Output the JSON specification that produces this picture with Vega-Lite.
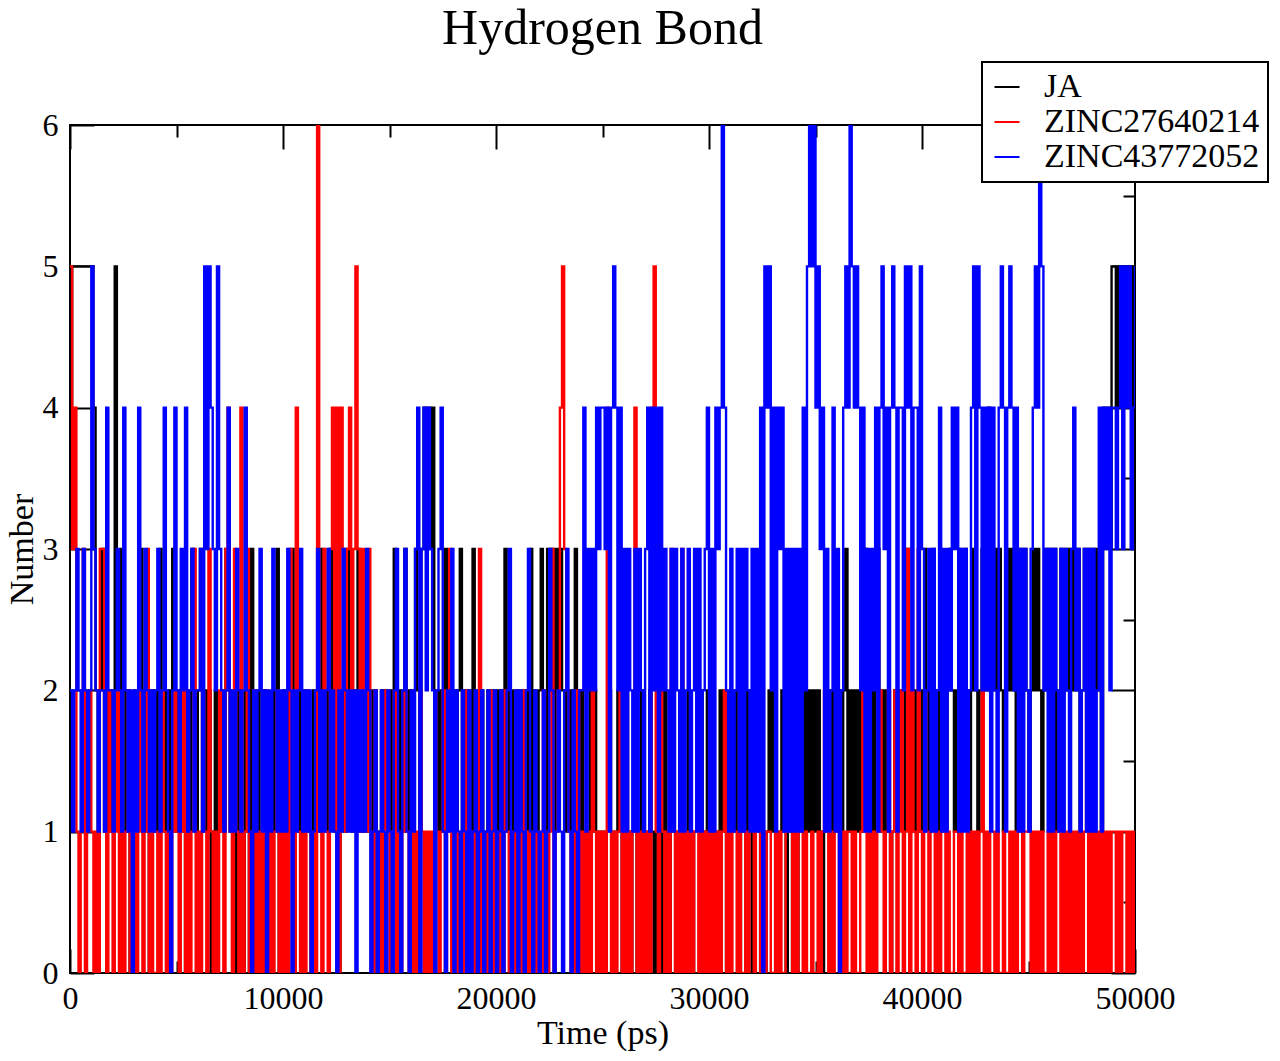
{
  "$schema": "https://vega.github.io/schema/vega-lite/v6.json",
  "description": "Hydrogen bond count over simulation time for JA and two ZINC ligands.",
  "width": 1065,
  "height": 848,
  "autosize": {"type": "none"},
  "padding": {"left": 70, "top": 125, "right": 145, "bottom": 88},
  "background": "white",
  "title": {"text": "Hydrogen Bond", "font": "Liberation Serif", "fontSize": 50, "fontWeight": "normal", "color": "black", "anchor": "middle", "frame": "group", "baseline": "alphabetic", "offset": 19, "dy": 52},
  "data": {
    "values": [
      {"t":0,"a":4,"b":5,"c":2},{"t":100,"a":5,"b":3,"c":1},{"t":200,"a":5,"b":4,"c":2},{"t":300,"a":5,"b":1,"c":3},{"t":400,"a":5,"b":0,"c":2},
      {"t":500,"a":5,"b":1,"c":1},{"t":600,"a":5,"b":3,"c":3},{"t":700,"a":5,"b":0,"c":2},{"t":800,"a":5,"b":1,"c":1},{"t":900,"a":5,"b":2,"c":2},
      {"t":1000,"a":5,"b":1,"c":5},{"t":1100,"a":4,"b":0,"c":3},{"t":1200,"a":2,"b":1,"c":2},{"t":1300,"a":1,"b":0,"c":1},{"t":1400,"a":2,"b":3,"c":2},
      {"t":1500,"a":3,"b":3,"c":2},{"t":1600,"a":1,"b":1,"c":1},{"t":1700,"a":2,"b":0,"c":4},{"t":1800,"a":1,"b":2,"c":2},{"t":1900,"a":2,"b":1,"c":2},
      {"t":2000,"a":1,"b":0,"c":1},{"t":2100,"a":5,"b":1,"c":2},{"t":2200,"a":2,"b":2,"c":3},{"t":2300,"a":1,"b":0,"c":2},{"t":2400,"a":3,"b":1,"c":1},
      {"t":2500,"a":2,"b":0,"c":4},{"t":2600,"a":1,"b":1,"c":2},{"t":2700,"a":2,"b":2,"c":1},{"t":2800,"a":0,"b":0,"c":2},{"t":2900,"a":1,"b":1,"c":0},
      {"t":3000,"a":2,"b":1,"c":2},{"t":3100,"a":1,"b":0,"c":1},{"t":3200,"a":2,"b":2,"c":4},{"t":3300,"a":3,"b":1,"c":2},{"t":3400,"a":1,"b":0,"c":1},
      {"t":3500,"a":2,"b":1,"c":3},{"t":3600,"a":1,"b":3,"c":2},{"t":3700,"a":0,"b":0,"c":1},{"t":3800,"a":2,"b":1,"c":2},{"t":3900,"a":1,"b":0,"c":1},
      {"t":4000,"a":2,"b":0,"c":2},{"t":4100,"a":1,"b":1,"c":3},{"t":4200,"a":3,"b":0,"c":1},{"t":4300,"a":2,"b":2,"c":2},{"t":4400,"a":1,"b":1,"c":4},
      {"t":4500,"a":2,"b":0,"c":2},{"t":4600,"a":1,"b":1,"c":1},{"t":4700,"a":2,"b":0,"c":0},{"t":4800,"a":3,"b":1,"c":2},{"t":4900,"a":1,"b":2,"c":4},
      {"t":5000,"a":2,"b":1,"c":2},{"t":5100,"a":1,"b":0,"c":1},{"t":5200,"a":2,"b":1,"c":3},{"t":5300,"a":1,"b":2,"c":2},{"t":5400,"a":0,"b":0,"c":4},
      {"t":5500,"a":2,"b":1,"c":1},{"t":5600,"a":1,"b":0,"c":2},{"t":5700,"a":3,"b":1,"c":3},{"t":5800,"a":2,"b":3,"c":1},{"t":5900,"a":1,"b":0,"c":2},
      {"t":6000,"a":2,"b":1,"c":2},{"t":6100,"a":3,"b":0,"c":3},{"t":6200,"a":1,"b":2,"c":1},{"t":6300,"a":2,"b":1,"c":5},{"t":6400,"a":1,"b":0,"c":3},
      {"t":6500,"a":2,"b":3,"c":5},{"t":6600,"a":0,"b":1,"c":4},{"t":6700,"a":1,"b":0,"c":3},{"t":6800,"a":2,"b":1,"c":2},{"t":6900,"a":1,"b":0,"c":5},
      {"t":7000,"a":1,"b":2,"c":3},{"t":7100,"a":2,"b":1,"c":2},{"t":7200,"a":1,"b":0,"c":1},{"t":7300,"a":3,"b":3,"c":2},{"t":7400,"a":2,"b":4,"c":4},
      {"t":7500,"a":1,"b":1,"c":1},{"t":7600,"a":2,"b":0,"c":2},{"t":7700,"a":1,"b":3,"c":1},{"t":7800,"a":0,"b":1,"c":3},{"t":7900,"a":2,"b":0,"c":2},
      {"t":8000,"a":1,"b":4,"c":1},{"t":8100,"a":0,"b":0,"c":2},{"t":8200,"a":2,"b":1,"c":4},{"t":8300,"a":1,"b":3,"c":2},{"t":8400,"a":0,"b":0,"c":1},
      {"t":8500,"a":3,"b":1,"c":0},{"t":8600,"a":1,"b":2,"c":2},{"t":8700,"a":0,"b":0,"c":1},{"t":8800,"a":2,"b":1,"c":2},{"t":8900,"a":0,"b":0,"c":3},
      {"t":9000,"a":1,"b":1,"c":1},{"t":9100,"a":2,"b":0,"c":2},{"t":9200,"a":0,"b":2,"c":0},{"t":9300,"a":1,"b":0,"c":2},{"t":9400,"a":0,"b":1,"c":1},
      {"t":9500,"a":2,"b":0,"c":3},{"t":9600,"a":1,"b":1,"c":2},{"t":9700,"a":3,"b":2,"c":1},{"t":9800,"a":0,"b":0,"c":2},{"t":9900,"a":1,"b":1,"c":1},
      {"t":10000,"a":2,"b":0,"c":2},{"t":10100,"a":1,"b":1,"c":1},{"t":10200,"a":2,"b":0,"c":3},{"t":10300,"a":1,"b":3,"c":2},{"t":10400,"a":3,"b":1,"c":0},
      {"t":10500,"a":2,"b":0,"c":2},{"t":10600,"a":1,"b":4,"c":1},{"t":10700,"a":2,"b":1,"c":2},{"t":10800,"a":1,"b":0,"c":3},{"t":10900,"a":2,"b":1,"c":1},
      {"t":11000,"a":1,"b":0,"c":2},{"t":11100,"a":2,"b":2,"c":1},{"t":11200,"a":1,"b":1,"c":2},{"t":11300,"a":0,"b":0,"c":0},{"t":11400,"a":2,"b":1,"c":1},
      {"t":11500,"a":1,"b":0,"c":2},{"t":11600,"a":2,"b":6,"c":3},{"t":11700,"a":1,"b":1,"c":1},{"t":11800,"a":3,"b":0,"c":2},{"t":11900,"a":1,"b":3,"c":1},
      {"t":12000,"a":2,"b":1,"c":2},{"t":12100,"a":1,"b":0,"c":3},{"t":12200,"a":3,"b":3,"c":1},{"t":12300,"a":2,"b":4,"c":2},{"t":12400,"a":1,"b":1,"c":1},
      {"t":12500,"a":2,"b":4,"c":0},{"t":12600,"a":0,"b":0,"c":2},{"t":12700,"a":1,"b":4,"c":1},{"t":12800,"a":2,"b":3,"c":3},{"t":12900,"a":1,"b":1,"c":2},
      {"t":13000,"a":3,"b":3,"c":1},{"t":13100,"a":2,"b":4,"c":2},{"t":13200,"a":1,"b":2,"c":1},{"t":13300,"a":2,"b":3,"c":2},{"t":13400,"a":1,"b":5,"c":0},
      {"t":13500,"a":3,"b":3,"c":2},{"t":13600,"a":1,"b":1,"c":1},{"t":13700,"a":2,"b":3,"c":2},{"t":13800,"a":1,"b":2,"c":1},{"t":13900,"a":2,"b":1,"c":3},
      {"t":14000,"a":1,"b":3,"c":2},{"t":14100,"a":2,"b":1,"c":0},{"t":14200,"a":1,"b":0,"c":1},{"t":14300,"a":2,"b":2,"c":2},{"t":14400,"a":0,"b":1,"c":0},
      {"t":14500,"a":1,"b":0,"c":1},{"t":14600,"a":2,"b":1,"c":2},{"t":14700,"a":1,"b":0,"c":1},{"t":14800,"a":2,"b":2,"c":0},{"t":14900,"a":1,"b":1,"c":2},
      {"t":15000,"a":2,"b":0,"c":1},{"t":15100,"a":1,"b":1,"c":0},{"t":15200,"a":3,"b":2,"c":2},{"t":15300,"a":2,"b":0,"c":3},{"t":15400,"a":1,"b":1,"c":1},
      {"t":15500,"a":2,"b":0,"c":0},{"t":15600,"a":1,"b":1,"c":2},{"t":15700,"a":3,"b":2,"c":3},{"t":15800,"a":1,"b":1,"c":1},{"t":15900,"a":2,"b":0,"c":0},
      {"t":16000,"a":1,"b":1,"c":2},{"t":16100,"a":2,"b":0,"c":1},{"t":16200,"a":3,"b":1,"c":3},{"t":16300,"a":2,"b":0,"c":4},{"t":16400,"a":1,"b":2,"c":0},
      {"t":16500,"a":3,"b":1,"c":3},{"t":16600,"a":4,"b":0,"c":4},{"t":16700,"a":3,"b":1,"c":2},{"t":16800,"a":4,"b":0,"c":4},{"t":16900,"a":3,"b":1,"c":3},
      {"t":17000,"a":4,"b":0,"c":2},{"t":17100,"a":2,"b":2,"c":0},{"t":17200,"a":1,"b":1,"c":2},{"t":17300,"a":2,"b":0,"c":3},{"t":17400,"a":1,"b":1,"c":4},
      {"t":17500,"a":2,"b":2,"c":1},{"t":17600,"a":3,"b":0,"c":0},{"t":17700,"a":1,"b":1,"c":2},{"t":17800,"a":2,"b":3,"c":1},{"t":17900,"a":1,"b":0,"c":3},
      {"t":18000,"a":2,"b":1,"c":0},{"t":18100,"a":1,"b":0,"c":2},{"t":18200,"a":2,"b":1,"c":1},{"t":18300,"a":3,"b":0,"c":0},{"t":18400,"a":1,"b":1,"c":2},
      {"t":18500,"a":2,"b":0,"c":1},{"t":18600,"a":1,"b":2,"c":0},{"t":18700,"a":2,"b":1,"c":2},{"t":18800,"a":1,"b":0,"c":0},{"t":18900,"a":3,"b":1,"c":1},
      {"t":19000,"a":1,"b":0,"c":2},{"t":19100,"a":2,"b":1,"c":0},{"t":19200,"a":1,"b":3,"c":1},{"t":19300,"a":2,"b":0,"c":2},{"t":19400,"a":1,"b":1,"c":0},
      {"t":19500,"a":0,"b":0,"c":1},{"t":19600,"a":2,"b":1,"c":2},{"t":19700,"a":1,"b":2,"c":0},{"t":19800,"a":2,"b":0,"c":1},{"t":19900,"a":1,"b":1,"c":2},
      {"t":20000,"a":2,"b":1,"c":0},{"t":20100,"a":1,"b":0,"c":1},{"t":20200,"a":2,"b":1,"c":2},{"t":20300,"a":1,"b":0,"c":0},{"t":20400,"a":3,"b":2,"c":1},
      {"t":20500,"a":2,"b":1,"c":2},{"t":20600,"a":1,"b":0,"c":3},{"t":20700,"a":2,"b":1,"c":0},{"t":20800,"a":1,"b":0,"c":1},{"t":20900,"a":2,"b":2,"c":2},
      {"t":21000,"a":1,"b":0,"c":0},{"t":21100,"a":2,"b":1,"c":2},{"t":21200,"a":1,"b":0,"c":1},{"t":21300,"a":2,"b":2,"c":0},{"t":21400,"a":1,"b":1,"c":2},
      {"t":21500,"a":2,"b":0,"c":3},{"t":21600,"a":3,"b":1,"c":1},{"t":21700,"a":1,"b":0,"c":0},{"t":21800,"a":2,"b":1,"c":2},{"t":21900,"a":1,"b":0,"c":1},
      {"t":22000,"a":2,"b":1,"c":0},{"t":22100,"a":3,"b":0,"c":1},{"t":22200,"a":2,"b":2,"c":2},{"t":22300,"a":0,"b":1,"c":0},{"t":22400,"a":3,"b":0,"c":1},
      {"t":22500,"a":2,"b":1,"c":3},{"t":22600,"a":3,"b":3,"c":2},{"t":22700,"a":1,"b":0,"c":0},{"t":22800,"a":3,"b":1,"c":1},{"t":22900,"a":2,"b":2,"c":2},
      {"t":23000,"a":3,"b":4,"c":1},{"t":23100,"a":2,"b":5,"c":0},{"t":23200,"a":1,"b":3,"c":2},{"t":23300,"a":2,"b":2,"c":3},{"t":23400,"a":1,"b":1,"c":1},
      {"t":23500,"a":2,"b":0,"c":0},{"t":23600,"a":1,"b":1,"c":2},{"t":23700,"a":3,"b":0,"c":1},{"t":23800,"a":2,"b":2,"c":0},{"t":23900,"a":1,"b":1,"c":2},
      {"t":24000,"a":2,"b":0,"c":2},{"t":24100,"a":1,"b":1,"c":4},{"t":24200,"a":0,"b":0,"c":1},{"t":24300,"a":1,"b":1,"c":3},{"t":24400,"a":2,"b":0,"c":2},
      {"t":24500,"a":1,"b":2,"c":3},{"t":24600,"a":2,"b":1,"c":2},{"t":24700,"a":1,"b":0,"c":4},{"t":24800,"a":0,"b":1,"c":3},{"t":24900,"a":1,"b":0,"c":4},
      {"t":25000,"a":1,"b":1,"c":4},{"t":25100,"a":0,"b":0,"c":3},{"t":25200,"a":1,"b":4,"c":4},{"t":25300,"a":2,"b":1,"c":1},{"t":25400,"a":1,"b":0,"c":4},
      {"t":25500,"a":0,"b":1,"c":5},{"t":25600,"a":1,"b":0,"c":4},{"t":25700,"a":2,"b":1,"c":2},{"t":25800,"a":1,"b":2,"c":4},{"t":25900,"a":0,"b":0,"c":1},
      {"t":26000,"a":1,"b":1,"c":3},{"t":26100,"a":2,"b":0,"c":1},{"t":26200,"a":1,"b":1,"c":3},{"t":26300,"a":0,"b":0,"c":2},{"t":26400,"a":1,"b":1,"c":1},
      {"t":26500,"a":2,"b":4,"c":3},{"t":26600,"a":0,"b":0,"c":1},{"t":26700,"a":1,"b":1,"c":3},{"t":26800,"a":2,"b":0,"c":2},{"t":26900,"a":1,"b":1,"c":1},
      {"t":27000,"a":0,"b":0,"c":3},{"t":27100,"a":1,"b":1,"c":4},{"t":27200,"a":2,"b":0,"c":1},{"t":27300,"a":1,"b":4,"c":4},{"t":27400,"a":0,"b":5,"c":2},
      {"t":27500,"a":1,"b":1,"c":4},{"t":27600,"a":2,"b":0,"c":1},{"t":27700,"a":1,"b":3,"c":4},{"t":27800,"a":0,"b":1,"c":2},{"t":27900,"a":2,"b":0,"c":3},
      {"t":28000,"a":1,"b":1,"c":2},{"t":28100,"a":0,"b":0,"c":1},{"t":28200,"a":1,"b":3,"c":3},{"t":28300,"a":2,"b":1,"c":1},{"t":28400,"a":1,"b":0,"c":3},
      {"t":28500,"a":0,"b":1,"c":2},{"t":28600,"a":1,"b":0,"c":1},{"t":28700,"a":2,"b":3,"c":3},{"t":28800,"a":1,"b":0,"c":1},{"t":28900,"a":0,"b":1,"c":2},
      {"t":29000,"a":2,"b":0,"c":3},{"t":29100,"a":1,"b":1,"c":1},{"t":29200,"a":0,"b":0,"c":2},{"t":29300,"a":1,"b":1,"c":3},{"t":29400,"a":2,"b":2,"c":1},
      {"t":29500,"a":1,"b":0,"c":3},{"t":29600,"a":2,"b":1,"c":1},{"t":29700,"a":0,"b":0,"c":2},{"t":29800,"a":1,"b":1,"c":3},{"t":29900,"a":2,"b":0,"c":4},
      {"t":30000,"a":1,"b":1,"c":1},{"t":30100,"a":2,"b":0,"c":3},{"t":30200,"a":1,"b":1,"c":1},{"t":30300,"a":0,"b":0,"c":4},{"t":30400,"a":1,"b":1,"c":3},
      {"t":30500,"a":2,"b":0,"c":4},{"t":30600,"a":1,"b":1,"c":6},{"t":30700,"a":2,"b":2,"c":4},{"t":30800,"a":0,"b":0,"c":2},{"t":30900,"a":1,"b":1,"c":1},
      {"t":31000,"a":2,"b":0,"c":3},{"t":31100,"a":1,"b":1,"c":1},{"t":31200,"a":2,"b":1,"c":2},{"t":31300,"a":1,"b":0,"c":3},{"t":31400,"a":0,"b":1,"c":1},
      {"t":31500,"a":1,"b":0,"c":3},{"t":31600,"a":2,"b":0,"c":1},{"t":31700,"a":1,"b":1,"c":3},{"t":31800,"a":2,"b":0,"c":2},{"t":31900,"a":1,"b":1,"c":1},
      {"t":32000,"a":0,"b":1,"c":3},{"t":32100,"a":1,"b":0,"c":1},{"t":32200,"a":2,"b":1,"c":3},{"t":32300,"a":1,"b":2,"c":1},{"t":32400,"a":0,"b":0,"c":4},
      {"t":32500,"a":1,"b":1,"c":0},{"t":32600,"a":0,"b":0,"c":5},{"t":32700,"a":1,"b":1,"c":4},{"t":32800,"a":2,"b":1,"c":5},{"t":32900,"a":1,"b":0,"c":2},
      {"t":33000,"a":2,"b":0,"c":4},{"t":33100,"a":1,"b":1,"c":1},{"t":33200,"a":0,"b":0,"c":4},{"t":33300,"a":1,"b":1,"c":3},{"t":33400,"a":2,"b":0,"c":4},
      {"t":33500,"a":1,"b":0,"c":1},{"t":33600,"a":0,"b":1,"c":3},{"t":33700,"a":1,"b":2,"c":1},{"t":33800,"a":2,"b":1,"c":3},{"t":33900,"a":0,"b":0,"c":1},
      {"t":34000,"a":1,"b":1,"c":3},{"t":34100,"a":0,"b":0,"c":1},{"t":34200,"a":1,"b":1,"c":3},{"t":34300,"a":2,"b":1,"c":1},{"t":34400,"a":1,"b":0,"c":4},
      {"t":34500,"a":2,"b":1,"c":2},{"t":34600,"a":1,"b":0,"c":5},{"t":34700,"a":2,"b":0,"c":6},{"t":34800,"a":1,"b":1,"c":5},{"t":34900,"a":2,"b":0,"c":6},
      {"t":35000,"a":1,"b":0,"c":4},{"t":35100,"a":2,"b":1,"c":5},{"t":35200,"a":1,"b":0,"c":3},{"t":35300,"a":0,"b":1,"c":4},{"t":35400,"a":1,"b":2,"c":1},
      {"t":35500,"a":2,"b":1,"c":3},{"t":35600,"a":1,"b":0,"c":1},{"t":35700,"a":2,"b":1,"c":2},{"t":35800,"a":1,"b":0,"c":4},{"t":35900,"a":2,"b":1,"c":1},
      {"t":36000,"a":1,"b":1,"c":3},{"t":36100,"a":2,"b":0,"c":0},{"t":36200,"a":1,"b":0,"c":2},{"t":36300,"a":2,"b":1,"c":4},{"t":36400,"a":3,"b":0,"c":5},
      {"t":36500,"a":1,"b":1,"c":4},{"t":36600,"a":2,"b":1,"c":6},{"t":36700,"a":1,"b":0,"c":5},{"t":36800,"a":2,"b":1,"c":4},{"t":36900,"a":1,"b":0,"c":5},
      {"t":37000,"a":2,"b":0,"c":4},{"t":37100,"a":1,"b":1,"c":2},{"t":37200,"a":2,"b":2,"c":4},{"t":37300,"a":3,"b":1,"c":1},{"t":37400,"a":2,"b":0,"c":3},
      {"t":37500,"a":1,"b":1,"c":1},{"t":37600,"a":2,"b":0,"c":3},{"t":37700,"a":1,"b":1,"c":2},{"t":37800,"a":2,"b":0,"c":4},{"t":37900,"a":3,"b":1,"c":1},
      {"t":38000,"a":1,"b":2,"c":4},{"t":38100,"a":2,"b":1,"c":5},{"t":38200,"a":1,"b":0,"c":3},{"t":38300,"a":2,"b":1,"c":4},{"t":38400,"a":1,"b":2,"c":1},
      {"t":38500,"a":0,"b":0,"c":4},{"t":38600,"a":1,"b":1,"c":5},{"t":38700,"a":2,"b":2,"c":4},{"t":38800,"a":1,"b":0,"c":1},{"t":38900,"a":2,"b":1,"c":4},
      {"t":39000,"a":2,"b":2,"c":4},{"t":39100,"a":1,"b":0,"c":2},{"t":39200,"a":2,"b":1,"c":5},{"t":39300,"a":3,"b":3,"c":4},{"t":39400,"a":2,"b":0,"c":5},
      {"t":39500,"a":1,"b":2,"c":2},{"t":39600,"a":2,"b":1,"c":4},{"t":39700,"a":1,"b":0,"c":4},{"t":39800,"a":2,"b":3,"c":2},{"t":39900,"a":1,"b":1,"c":5},
      {"t":40000,"a":2,"b":0,"c":3},{"t":40100,"a":3,"b":2,"c":1},{"t":40200,"a":2,"b":1,"c":2},{"t":40300,"a":1,"b":0,"c":3},{"t":40400,"a":2,"b":1,"c":1},
      {"t":40500,"a":3,"b":2,"c":3},{"t":40600,"a":2,"b":0,"c":1},{"t":40700,"a":1,"b":1,"c":2},{"t":40800,"a":2,"b":0,"c":4},{"t":40900,"a":1,"b":1,"c":1},
      {"t":41000,"a":2,"b":1,"c":3},{"t":41100,"a":1,"b":0,"c":1},{"t":41200,"a":2,"b":1,"c":3},{"t":41300,"a":3,"b":0,"c":2},{"t":41400,"a":2,"b":0,"c":4},
      {"t":41500,"a":1,"b":1,"c":3},{"t":41600,"a":2,"b":1,"c":4},{"t":41700,"a":3,"b":0,"c":1},{"t":41800,"a":1,"b":1,"c":3},{"t":41900,"a":2,"b":0,"c":1},
      {"t":42000,"a":3,"b":0,"c":3},{"t":42100,"a":2,"b":1,"c":1},{"t":42200,"a":1,"b":0,"c":2},{"t":42300,"a":2,"b":1,"c":4},{"t":42400,"a":3,"b":0,"c":5},
      {"t":42500,"a":2,"b":1,"c":2},{"t":42600,"a":1,"b":0,"c":5},{"t":42700,"a":2,"b":1,"c":4},{"t":42800,"a":3,"b":2,"c":2},{"t":42900,"a":2,"b":0,"c":4},
      {"t":43000,"a":2,"b":1,"c":2},{"t":43100,"a":4,"b":0,"c":4},{"t":43200,"a":3,"b":1,"c":1},{"t":43300,"a":2,"b":1,"c":4},{"t":43400,"a":3,"b":0,"c":2},
      {"t":43500,"a":2,"b":1,"c":1},{"t":43600,"a":3,"b":0,"c":4},{"t":43700,"a":2,"b":0,"c":5},{"t":43800,"a":1,"b":1,"c":4},{"t":43900,"a":2,"b":0,"c":1},
      {"t":44000,"a":3,"b":0,"c":4},{"t":44100,"a":2,"b":1,"c":5},{"t":44200,"a":3,"b":0,"c":4},{"t":44300,"a":2,"b":1,"c":2},{"t":44400,"a":1,"b":0,"c":4},
      {"t":44500,"a":2,"b":1,"c":1},{"t":44600,"a":3,"b":1,"c":3},{"t":44700,"a":2,"b":0,"c":1},{"t":44800,"a":3,"b":1,"c":3},{"t":44900,"a":2,"b":1,"c":2},
      {"t":45000,"a":1,"b":1,"c":1},{"t":45100,"a":2,"b":0,"c":3},{"t":45200,"a":3,"b":1,"c":4},{"t":45300,"a":2,"b":0,"c":5},{"t":45400,"a":3,"b":1,"c":4},
      {"t":45500,"a":2,"b":0,"c":6},{"t":45600,"a":1,"b":1,"c":5},{"t":45700,"a":2,"b":0,"c":2},{"t":45800,"a":3,"b":0,"c":3},{"t":45900,"a":2,"b":1,"c":1},
      {"t":46000,"a":3,"b":0,"c":3},{"t":46100,"a":2,"b":1,"c":1},{"t":46200,"a":3,"b":0,"c":3},{"t":46300,"a":1,"b":1,"c":2},{"t":46400,"a":2,"b":1,"c":1},
      {"t":46500,"a":3,"b":0,"c":3},{"t":46600,"a":2,"b":1,"c":1},{"t":46700,"a":3,"b":0,"c":3},{"t":46800,"a":2,"b":1,"c":2},{"t":46900,"a":3,"b":0,"c":1},
      {"t":47000,"a":2,"b":1,"c":3},{"t":47100,"a":3,"b":0,"c":4},{"t":47200,"a":2,"b":1,"c":2},{"t":47300,"a":3,"b":0,"c":3},{"t":47400,"a":1,"b":1,"c":1},
      {"t":47500,"a":2,"b":0,"c":2},{"t":47600,"a":3,"b":1,"c":3},{"t":47700,"a":2,"b":2,"c":1},{"t":47800,"a":3,"b":0,"c":3},{"t":47900,"a":2,"b":1,"c":1},
      {"t":48000,"a":3,"b":0,"c":3},{"t":48100,"a":2,"b":1,"c":1},{"t":48200,"a":3,"b":0,"c":2},{"t":48300,"a":2,"b":1,"c":4},{"t":48400,"a":1,"b":0,"c":1},
      {"t":48500,"a":4,"b":1,"c":4},{"t":48600,"a":3,"b":0,"c":3},{"t":48700,"a":4,"b":1,"c":4},{"t":48800,"a":3,"b":0,"c":2},{"t":48900,"a":5,"b":1,"c":4},
      {"t":49000,"a":5,"b":1,"c":4},{"t":49100,"a":4,"b":0,"c":3},{"t":49200,"a":5,"b":1,"c":4},{"t":49300,"a":5,"b":0,"c":5},{"t":49400,"a":5,"b":1,"c":3},
      {"t":49500,"a":5,"b":1,"c":5},{"t":49600,"a":4,"b":0,"c":4},{"t":49700,"a":5,"b":1,"c":5},{"t":49800,"a":5,"b":0,"c":3},{"t":49900,"a":3,"b":1,"c":4},
      {"t":50000,"a":3,"b":0,"c":5}
    ]
  },
  "config": {
    "view": {"stroke": "black", "strokeWidth": 2},
    "axis": {
      "domain": false,
      "grid": false,
      "tickColor": "black",
      "tickWidth": 2,
      "labelFont": "Liberation Serif",
      "labelFontSize": 32,
      "labelColor": "black",
      "labelOverlap": false,
      "labelFlush": false,
      "labelBound": false,
      "titleFont": "Liberation Serif",
      "titleFontSize": 34,
      "titleFontWeight": "normal",
      "titleColor": "black"
    },
    "legend": {
      "strokeColor": "black",
      "strokeWidth": 2,
      "fillColor": "white",
      "padding": 8,
      "symbolType": "stroke",
      "symbolSize": 625,
      "symbolStrokeWidth": 2,
      "symbolOffset": 0,
      "labelFont": "Liberation Serif",
      "labelFontSize": 34,
      "labelColor": "black",
      "labelOffset": 20,
      "labelLimit": 400,
      "rowPadding": 1
    }
  },
  "resolve": {"axis": {"x": "independent", "y": "independent"}},
  "layer": [
    {
      "mark": {"type": "line", "interpolate": "step-after", "strokeWidth": 2.4, "clip": true},
      "encoding": {
        "x": {
          "field": "t", "type": "quantitative",
          "scale": {"domain": [0, 50000], "nice": false, "zero": false},
          "axis": {
            "orient": "bottom", "title": "Time (ps)", "format": "d",
            "values": [0, 5000, 10000, 15000, 20000, 25000, 30000, 35000, 40000, 45000, 50000],
            "labelExpr": "datum.value % 10000 === 0 ? datum.label : ''",
            "labelFont": "Liberation Serif", "labelFontSize": 32,
            "tickSize": {"condition": {"test": "datum.value % 10000 === 0", "value": -24}, "value": -12},
            "labelPadding": 34,
            "titleY": 70, "titleBaseline": "alphabetic"
          }
        },
        "y": {
          "field": "a", "type": "quantitative",
          "scale": {"domain": [0, 6], "nice": false, "zero": false},
          "axis": {
            "orient": "left", "title": "Number", "format": "d",
            "values": [0, 0.5, 1, 1.5, 2, 2.5, 3, 3.5, 4, 4.5, 5, 5.5, 6],
            "labelExpr": "datum.value % 1 === 0 ? datum.label : ''",
            "labelFont": "Liberation Serif", "labelFontSize": 32,
            "tickSize": {"condition": {"test": "datum.value % 1 === 0", "value": -24}, "value": -12},
            "labelPadding": 36,
            "titleX": -48, "titleY": 424, "titleBaseline": "middle"
          }
        },
        "color": {
          "datum": "JA",
          "scale": {"domain": ["JA", "ZINC27640214", "ZINC43772052"], "range": ["#000000", "#ff0000", "#0000ff"]},
          "legend": {"title": null, "orient": "none", "legendX": 912, "legendY": -63, "labelFont": "Liberation Serif", "labelFontSize": 34}
        }
      }
    },
    {
      "mark": {"type": "line", "interpolate": "step-after", "strokeWidth": 2.4, "clip": true},
      "encoding": {
        "x": {"field": "t", "type": "quantitative", "axis": null},
        "y": {"field": "b", "type": "quantitative", "axis": null},
        "color": {"datum": "ZINC27640214"}
      }
    },
    {
      "mark": {"type": "line", "interpolate": "step-after", "strokeWidth": 2.4, "clip": true},
      "encoding": {
        "x": {"field": "t", "type": "quantitative", "axis": null},
        "y": {"field": "c", "type": "quantitative", "axis": null},
        "color": {"datum": "ZINC43772052"}
      }
    },
    {
      "mark": {"type": "point", "opacity": 0},
      "encoding": {
        "x": {
          "field": "t", "type": "quantitative",
          "axis": {
            "orient": "top", "title": null, "labels": false,
            "values": [0, 5000, 10000, 15000, 20000, 25000, 30000, 35000, 40000, 45000, 50000],
            "tickSize": {"condition": {"test": "datum.value % 10000 === 0", "value": -24}, "value": -12}
          }
        },
        "y": {
          "field": "a", "type": "quantitative",
          "axis": {
            "orient": "right", "title": null, "labels": false,
            "values": [0, 0.5, 1, 1.5, 2, 2.5, 3, 3.5, 4, 4.5, 5, 5.5, 6],
            "tickSize": {"condition": {"test": "datum.value % 1 === 0", "value": -24}, "value": -12}
          }
        }
      }
    }
  ]
}
